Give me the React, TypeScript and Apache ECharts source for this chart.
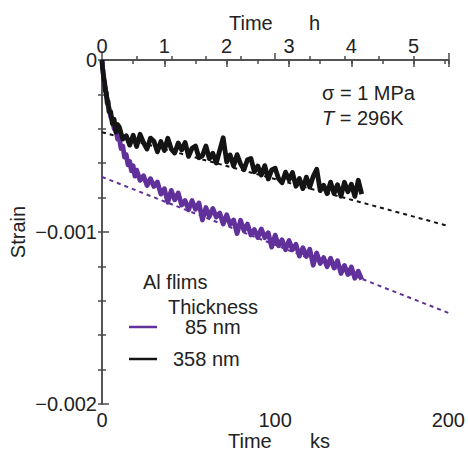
import { useEffect, useRef } from 'react';
import * as echarts from 'echarts';

// Time in ks, strain in microstrain (x1e-6)
const blackTime = [0, 0.3, 0.6, 1, 1.5, 2, 2.5, 3, 3.5, 4, 5, 6, 7, 8, 9, 10,
  12, 14, 16, 18, 20, 22, 24, 26, 28, 30, 32, 34, 36, 38, 40, 42, 44, 46, 48, 50,
  52, 54, 56, 58, 60, 62, 64, 66, 68, 70, 72, 74, 76, 78, 80, 82, 84, 86, 88, 90,
  92, 94, 96, 98, 100, 102, 104, 106, 108, 110, 112, 114, 116, 118, 120, 122, 124,
  126, 128, 130, 132, 134, 136, 138, 140, 142, 144, 146, 148, 150];
const blackStrain = [0, -45, -65, -110, -130, -180, -190, -250, -240, -300, -300, -370, -345, -420, -375, -390,
  -460, -440, -495, -437, -503, -432, -481, -518, -454, -473, -534, -474, -526, -455, -518, -541, -482, -523, -479, -560,
  -513, -500, -568, -556, -500, -574, -542, -599, -525, -452, -592, -552, -616, -550, -604, -638, -580, -572, -650, -617,
  -669, -614, -692, -639, -629, -690, -714, -652, -696, -654, -734, -689, -748, -681, -739, -676, -635,
  -759, -728, -777, -710, -777, -725, -792, -711, -766, -722, -793, -699, -780];

const purpleTime = [0, 0.3, 0.6, 1, 1.5, 2, 2.5, 3, 3.5, 4, 5, 6, 7, 8, 9, 10, 11, 12, 13, 14, 15, 16, 17, 18, 19, 20,
  22, 24, 26, 28, 30, 32, 34, 36, 38, 40, 42, 44, 46, 48, 50, 52, 54, 56, 58, 60, 62, 64, 66, 68, 70,
  72, 74, 76, 78, 80, 82, 84, 86, 88, 90, 92, 94, 96, 98, 100, 102, 104, 106, 108, 110, 112, 114, 116, 118, 120,
  122, 124, 126, 128, 130, 132, 134, 136, 138, 140, 142, 144, 146, 148, 150];
const purpleStrain = [0, -40, -75, -95, -145, -165, -210, -225, -265, -275, -330, -350, -400, -405, -460, -455, -515, -500, -565, -550, -610, -590, -645, -615, -675, -640,
  -700, -673, -730, -690, -735, -709, -780, -748, -827, -758, -813, -773, -843, -817, -871, -817, -868, -831, -930, -858, -911, -863, -913, -890, -953,
  -900, -957, -930, -1009, -932, -992, -954, -1017, -986, -1032, -982, -1033, -1004, -1088, -1018, -1080, -1045, -1103, -1050, -1103, -1072, -1140, -1091, -1142, -1100,
  -1193, -1122, -1183, -1149, -1202, -1152, -1209, -1167, -1241, -1194, -1247, -1203, -1269, -1228, -1276];

// Dashed fit lines (strain)
const fitTime = [0, 200];
const fitPurple = [-0.00068, -0.00147];
const fitBlack = [-0.00042, -0.000965];

const PURPLE = '#62309a';
const BLACK = '#141414';
const AXIS = '#4a4a4a';
const TEXT = '#222';
const FONT = 'Liberation Sans, Arial, sans-serif';

const pairs = (t: number[], v: number[], scale = 1) => t.map((x, i) => [x, v[i] * scale]);

export default function App() {
  const ref = useRef<HTMLDivElement>(null);
  useEffect(() => {
    const chart = echarts.init(ref.current!, null, { renderer: 'svg' });
    const axisLine = { show: true, lineStyle: { color: AXIS, width: 1.5 } };
    const label = { color: TEXT, fontSize: 20, fontFamily: FONT };
    chart.setOption({
      animation: false,
      backgroundColor: '#fff',
      textStyle: { fontFamily: FONT },
      grid: { left: 102, top: 60, width: 347, height: 344, containLabel: false },
      xAxis: [
        {
          type: 'value', position: 'bottom', min: 0, max: 200, interval: 100,
          axisLine, splitLine: { show: false },
          axisTick: { show: true, inside: true, length: 7, lineStyle: { color: AXIS, width: 1.5 } },
          minorTick: { show: true, splitNumber: 5, length: 4, lineStyle: { color: AXIS, width: 1.5 } },
          axisLabel: { ...label, margin: 6 },
        },
        {
          type: 'value', position: 'top', min: 0, max: 200 / 36, interval: 1,
          axisLine, splitLine: { show: false },
          axisTick: { show: true, inside: true, length: 7, lineStyle: { color: AXIS, width: 1.5 } },
          axisLabel: { ...label, margin: 4, formatter: (v: number) => (Number.isInteger(v) ? String(v) : '') },
        },
        {
          type: 'value', position: 'top', min: 0, max: 200 / 36, interval: 0.5,
          axisLine: { show: false }, splitLine: { show: false },
          axisTick: { show: true, inside: true, length: 4, lineStyle: { color: AXIS, width: 1.5 } },
          axisLabel: { show: false },
        },
      ],
      yAxis: [
        {
          type: 'value', position: 'left', min: -0.002, max: 0, interval: 0.001,
          axisLine, splitLine: { show: false },
          axisTick: { show: true, inside: true, length: 7, lineStyle: { color: AXIS, width: 1.5 } },
          minorTick: { show: true, splitNumber: 5, length: 4, lineStyle: { color: AXIS, width: 1.5 } },
          axisLabel: { ...label, margin: 5, formatter: (v: number) => (v === 0 ? '0' : v.toFixed(3).replace('-', '\u2212')) },
        },
        {
          type: 'value', position: 'right', min: -0.002, max: 0, interval: 0.001,
          axisLine, splitLine: { show: false },
          axisTick: { show: true, inside: true, length: 4, lineStyle: { color: AXIS, width: 1.5 } },
          minorTick: { show: true, splitNumber: 5, length: 4, lineStyle: { color: AXIS, width: 1.5 } },
          axisLabel: { show: false },
        },
      ],
      legend: [
        {
          data: ['85 nm'], left: 129, top: 317, padding: 0, icon: 'rect', itemWidth: 28, itemHeight: 2.5,
          selectedMode: false, formatter: '{p|{name}}',
          textStyle: { color: TEXT, fontSize: 20, fontFamily: FONT, rich: { p: { padding: [0, 0, 0, 23], fontSize: 20, color: TEXT, fontFamily: FONT } } },
        },
        {
          data: ['358 nm'], left: 129, top: 349, padding: 0, icon: 'rect', itemWidth: 28, itemHeight: 2.5,
          selectedMode: false, formatter: '{p|{name}}',
          textStyle: { color: TEXT, fontSize: 20, fontFamily: FONT, rich: { p: { padding: [0, 0, 0, 11], fontSize: 20, color: TEXT, fontFamily: FONT } } },
        },
      ],
      series: [
        {
          name: 'fit 85 nm', type: 'line', xAxisIndex: 0, yAxisIndex: 0, symbol: 'none', silent: true,
          data: pairs(fitTime, fitPurple),
          lineStyle: { color: PURPLE, width: 2, type: [4, 4] },
        },
        {
          name: 'fit 358 nm', type: 'line', xAxisIndex: 0, yAxisIndex: 0, symbol: 'none', silent: true,
          data: pairs(fitTime, fitBlack),
          lineStyle: { color: BLACK, width: 2, type: [4, 4] },
        },
        {
          name: '85 nm', type: 'line', xAxisIndex: 0, yAxisIndex: 0, symbol: 'none',
          itemStyle: { color: PURPLE },
          data: pairs(purpleTime, purpleStrain, 1e-6),
          lineStyle: { color: PURPLE, width: 4.8, join: 'round' },
        },
        {
          name: '358 nm', type: 'line', xAxisIndex: 0, yAxisIndex: 0, symbol: 'none',
          itemStyle: { color: BLACK },
          data: pairs(blackTime, blackStrain, 1e-6),
          lineStyle: { color: BLACK, width: 4.8, join: 'round' },
        },
      ],
      graphic: [
        { type: 'text', x: 18, y: 232, rotation: Math.PI / 2, style: { text: 'Strain', fill: TEXT, fontSize: 20, fontFamily: FONT, align: 'center', verticalAlign: 'middle' } },
        { type: 'text', x: 229, y: 23, style: { text: 'Time', fill: TEXT, fontSize: 20, fontFamily: FONT, verticalAlign: 'middle' } },
        { type: 'text', x: 309, y: 23, style: { text: 'h', fill: TEXT, fontSize: 20, fontFamily: FONT, verticalAlign: 'middle' } },
        { type: 'text', x: 228, y: 441, style: { text: 'Time', fill: TEXT, fontSize: 20, fontFamily: FONT, verticalAlign: 'middle' } },
        { type: 'text', x: 310, y: 441, style: { text: 'ks', fill: TEXT, fontSize: 20, fontFamily: FONT, verticalAlign: 'middle' } },
        { type: 'text', x: 322, y: 93, style: { text: '\u03c3 = 1 MPa', fill: TEXT, fontSize: 20, fontFamily: FONT, verticalAlign: 'middle' } },
        {
          type: 'text', x: 322, y: 118,
          style: {
            text: '{i|T} = 296K', fill: TEXT, fontSize: 20, fontFamily: FONT, verticalAlign: 'middle',
            rich: { i: { fontStyle: 'italic', fontSize: 20, fontFamily: FONT, fill: TEXT } },
          },
        },
        { type: 'text', x: 143, y: 282, style: { text: 'Al flims', fill: TEXT, fontSize: 20, fontFamily: FONT, verticalAlign: 'middle' } },
        { type: 'text', x: 168, y: 307, style: { text: 'Thickness', fill: TEXT, fontSize: 20, fontFamily: FONT, verticalAlign: 'middle' } },
      ],
    });
    return () => chart.dispose();
  }, []);
  return <div ref={ref} style={{ position: 'fixed', left: 0, top: 0, width: 468, height: 453, background: '#fff' }} />;
}
